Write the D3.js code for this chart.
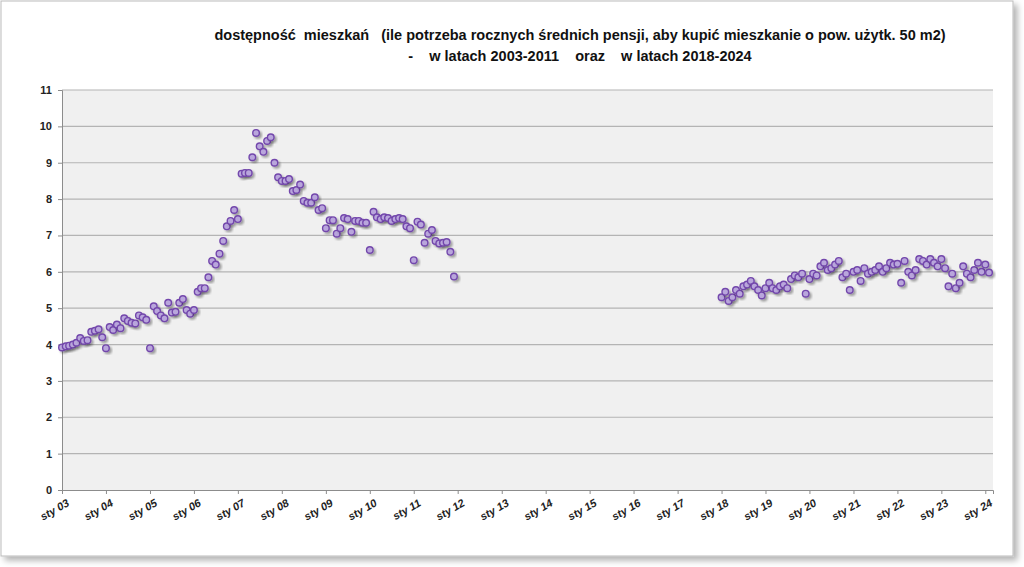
<!DOCTYPE html>
<html>
<head>
<meta charset="UTF-8">
<script src="https://d3js.org/d3.v7.min.js"></script>
<style>
  body { margin:0; background:#fff; }
  .axis path, .axis line { fill:none; stroke:#8c8c8c; }
  .axis text { font-family:"Liberation Sans", Arial, sans-serif; font-size:11px; font-weight:bold; fill:#222; }
</style>
</head>
<body>
<svg id="chart" width="1024" height="567"></svg>
<script>
// values 2003-01 .. 2011-12
var vals1 = [
  3.92,3.95,3.97,4.0,4.05,4.18,4.1,4.12,4.35,4.38,4.42,4.2,
  3.9,4.48,4.4,4.55,4.45,4.72,4.65,4.6,4.58,4.8,4.75,4.68,
  3.9,5.05,4.92,4.8,4.72,5.15,4.88,4.9,5.15,5.25,4.95,4.85,
  4.95,5.45,5.55,5.55,5.85,6.3,6.2,6.5,6.85,7.25,7.4,7.7,
  7.45,8.7,8.72,8.72,9.15,9.82,9.45,9.3,9.6,9.7,9.0,8.6,
  8.5,8.5,8.55,8.22,8.25,8.4,7.95,7.9,7.9,8.05,7.7,7.75,
  7.2,7.42,7.42,7.05,7.2,7.48,7.45,7.1,7.4,7.4,7.35,7.35,
  6.6,7.65,7.5,7.45,7.5,7.48,7.4,7.45,7.48,7.45,7.25,7.2,
  6.32,7.38,7.3,6.8,7.05,7.15,6.85,6.78,6.8,6.82,6.55,5.87
];
// values 2018-01 .. 2024-02
var vals2 = [
  5.3,5.45,5.2,5.3,5.5,5.4,5.6,5.65,5.75,5.6,5.5,5.35,
  5.55,5.7,5.55,5.5,5.6,5.65,5.55,5.8,5.9,5.85,5.95,5.4,
  5.8,5.95,5.9,6.15,6.25,6.05,6.1,6.2,6.3,5.85,5.95,5.5,
  6.0,6.05,5.75,6.1,5.95,6.0,6.05,6.15,6.0,6.1,6.25,6.2,
  6.22,5.7,6.3,6.0,5.9,6.05,6.35,6.3,6.2,6.35,6.25,6.15,
  6.35,6.1,5.6,5.95,5.55,5.7,6.15,5.95,5.85,6.05,6.25,6.0,
  6.2,5.98
];
var tickYears = d3.range(2003, 2025);
var yTicks = d3.range(0, 12);
var titleLines = [
  "dostępność  mieszkań   (ile potrzeba rocznych średnich pensji, aby kupić mieszkanie o pow. użytk. 50 m2)",
  "-    w latach 2003-2011    oraz    w latach 2018-2024"
];

var data = vals1.map(function(v, i) { return { d: new Date(2003, i, 1), v: v }; })
  .concat(vals2.map(function(v, i) { return { d: new Date(2018, i, 1), v: v }; }));

var svg = d3.select("#chart");
var defs = svg.append("defs");
var f = defs.append("filter").attr("id", "sh").attr("x", "-50%").attr("y", "-50%").attr("width", "200%").attr("height", "200%");
f.append("feDropShadow").attr("dx", 2).attr("dy", 2).attr("stdDeviation", 1.2).attr("flood-color", "#000").attr("flood-opacity", 0.35);
var f2 = defs.append("filter").attr("id", "bsh").attr("x", "-5%").attr("y", "-5%").attr("width", "110%").attr("height", "110%");
f2.append("feDropShadow").attr("dx", 4).attr("dy", 4).attr("stdDeviation", 3).attr("flood-color", "#000").attr("flood-opacity", 0.3);

// outer frame
svg.append("rect").attr("x", 1).attr("y", 1).attr("width", 1012).attr("height", 555)
  .attr("fill", "#fff").attr("stroke", "#bbb").attr("filter", "url(#bsh)");

var x = d3.scaleTime().domain([new Date(2003, 0, 1), new Date(2024, 2, 5)]).range([62, 993]);
var y = d3.scaleLinear().domain([0, 11]).range([490, 90]);

svg.append("rect").attr("x", 62).attr("y", 90).attr("width", 931).attr("height", 400).attr("fill", "#f0f0f0");

svg.append("g").selectAll("line").data(yTicks.slice(1)).join("line")
  .attr("x1", 62).attr("x2", 993).attr("y1", function(d) { return y(d); }).attr("y2", function(d) { return y(d); })
  .attr("stroke", "#b4b4b4").attr("stroke-width", 1.2);

svg.append("g").attr("class", "axis").attr("transform", "translate(62,0)")
  .call(d3.axisLeft(y).tickValues(yTicks).tickSize(4).tickPadding(6));

var xa = svg.append("g").attr("class", "axis").attr("transform", "translate(0,490)")
  .call(d3.axisBottom(x).tickValues(tickYears.map(function(t) { return new Date(t, 0, 1); }))
    .tickFormat(function(d) { return "sty " + d3.timeFormat("%y")(d); }).tickSize(4));
xa.selectAll("text").attr("font-style", "italic")
  .attr("text-anchor", "end").attr("transform", "rotate(-30)").attr("dx", "-0.1em").attr("dy", "0.9em");

svg.append("g").selectAll("circle").data(data).join("circle")
  .attr("cx", function(d) { return x(d.d); }).attr("cy", function(d) { return y(d.v); })
  .attr("r", 3.3).attr("fill", "#b9a6dc").attr("stroke", "#7347ac").attr("stroke-width", 1.4)
  .attr("filter", "url(#sh)");

svg.append("g").selectAll("text").data(titleLines).join("text")
  .attr("x", 580).attr("y", function(d, i) { return 40 + i * 21; }).attr("text-anchor", "middle")
  .attr("font-family", "Liberation Sans, Arial, sans-serif").attr("font-weight", "bold").attr("font-size", 14.5)
  .attr("fill", "#111").attr("xml:space", "preserve").style("white-space", "pre").text(function(d) { return d; });
</script>
</body>
</html>
